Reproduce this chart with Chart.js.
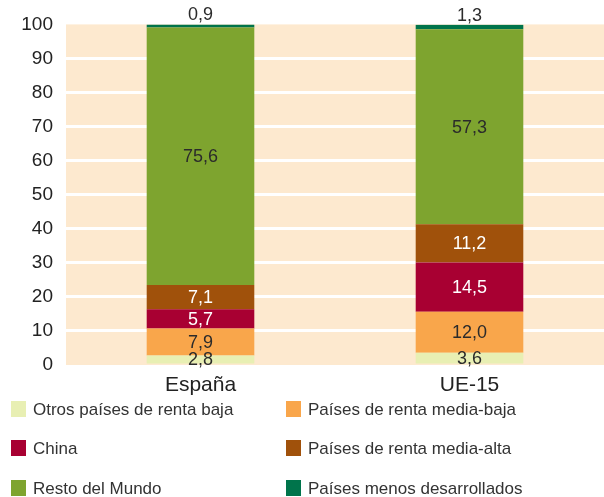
<!DOCTYPE html>
<html>
<head>
<meta charset="utf-8">
<script src="https://cdn.jsdelivr.net/npm/chart.js@4/dist/chart.umd.min.js"></script>
<style>
  html, body { margin: 0; padding: 0; background: #fff; }
  #wrap { width: 604px; height: 497px; position: relative; }
</style>
</head>
<body>
<div id="wrap"><canvas id="c" width="604" height="497"></canvas></div>
<script>
const categories = ['España', 'UE-15'];
const seriesNames = [
  'Otros países de renta baja',
  'Países de renta media-baja',
  'China',
  'Países de renta media-alta',
  'Resto del Mundo',
  'Países menos desarrollados'
];
const otrosRentaBaja = [2.8, 3.6];
const rentaMediaBaja = [7.9, 12.0];
const china = [5.7, 14.5];
const rentaMediaAlta = [7.1, 11.2];
const restoMundo = [75.6, 57.3];
const menosDesarrollados = [0.9, 1.3];
const yTicks = [0, 10, 20, 30, 40, 50, 60, 70, 80, 90, 100];

const colors = ['#e8efb3', '#f9a64b', '#a80032', '#a0510b', '#7ea42f', '#00744b'];
const labelColors = ['#2b2b2b', '#2b2b2b', '#ffffff', '#ffffff', '#2b2b2b', '#2b2b2b'];
const allSeries = [otrosRentaBaja, rentaMediaBaja, china, rentaMediaAlta, restoMundo, menosDesarrollados];

const FONT = '"Liberation Sans", Arial, sans-serif';

const bgPlugin = {
  id: 'bg',
  beforeDraw(chart) {
    const { ctx, chartArea: a } = chart;
    ctx.save();
    ctx.fillStyle = '#fde9cf';
    ctx.fillRect(a.left, a.top, a.right - a.left, a.bottom - a.top);
    ctx.restore();
  }
};

const labelPlugin = {
  id: 'vals',
  afterDatasetsDraw(chart) {
    const ctx = chart.ctx;
    ctx.save();
    ctx.font = '18px ' + FONT;
    ctx.textAlign = 'center';
    ctx.textBaseline = 'middle';
    chart.data.datasets.forEach((ds, i) => {
      const meta = chart.getDatasetMeta(i);
      meta.data.forEach((bar, j) => {
        const txt = ds.data[j].toFixed(1).replace('.', ',');
        let y = (bar.y + bar.base) / 2;
        if (i === chart.data.datasets.length - 1) y = bar.y - 10;
        ctx.fillStyle = labelColors[i];
        ctx.fillText(txt, bar.x, y + 1);
      });
    });
    ctx.restore();
  }
};

const legendPlugin = {
  id: 'legend2col',
  afterDraw(chart) {
    const ctx = chart.ctx;
    ctx.save();
    ctx.font = '17px ' + FONT;
    ctx.textBaseline = 'middle';
    ctx.textAlign = 'left';
    const colX = [11, 286];
    const rowY = [409, 448, 488];
    seriesNames.forEach((name, i) => {
      const x = colX[i % 2];
      const y = rowY[Math.floor(i / 2)];
      ctx.fillStyle = colors[i];
      ctx.fillRect(x, y - 8, 15, 16);
      ctx.fillStyle = '#333333';
      ctx.fillText(name, x + 22, y + 1);
    });
    ctx.restore();
  }
};

new Chart(document.getElementById('c'), {
  type: 'bar',
  data: {
    labels: categories,
    datasets: allSeries.map((d, i) => ({
      label: seriesNames[i],
      data: d,
      backgroundColor: colors[i],
      borderWidth: 0,
      categoryPercentage: 0.8,
      barPercentage: 0.5
    }))
  },
  options: {
    responsive: false,
    animation: false,
    layout: { padding: { top: 21, right: 0, bottom: 0, left: 0 } },
    plugins: { legend: { display: false }, tooltip: { enabled: false } },
    scales: {
      x: {
        stacked: true,
        grid: { display: false },
        border: { display: false },
        ticks: { color: '#222', font: { family: FONT, size: 21 }, padding: 0 },
        afterFit(s) { s.height = 132; }
      },
      y: {
        stacked: true,
        min: 0,
        max: 100,
        afterBuildTicks(s) { s.ticks = yTicks.map(v => ({ value: v })); },
        grid: {
          color: c => (c.tick && (c.tick.value === 0 || c.tick.value === 100)) ? 'rgba(0,0,0,0)' : '#ffffff',
          lineWidth: 3,
          drawTicks: false
        },
        border: { display: false },
        ticks: { color: '#222', font: { family: FONT, size: 19 }, padding: 13 },
        afterFit(s) { s.width = 66; }
      }
    }
  },
  plugins: [bgPlugin, labelPlugin, legendPlugin]
});
</script>
</body>
</html>
